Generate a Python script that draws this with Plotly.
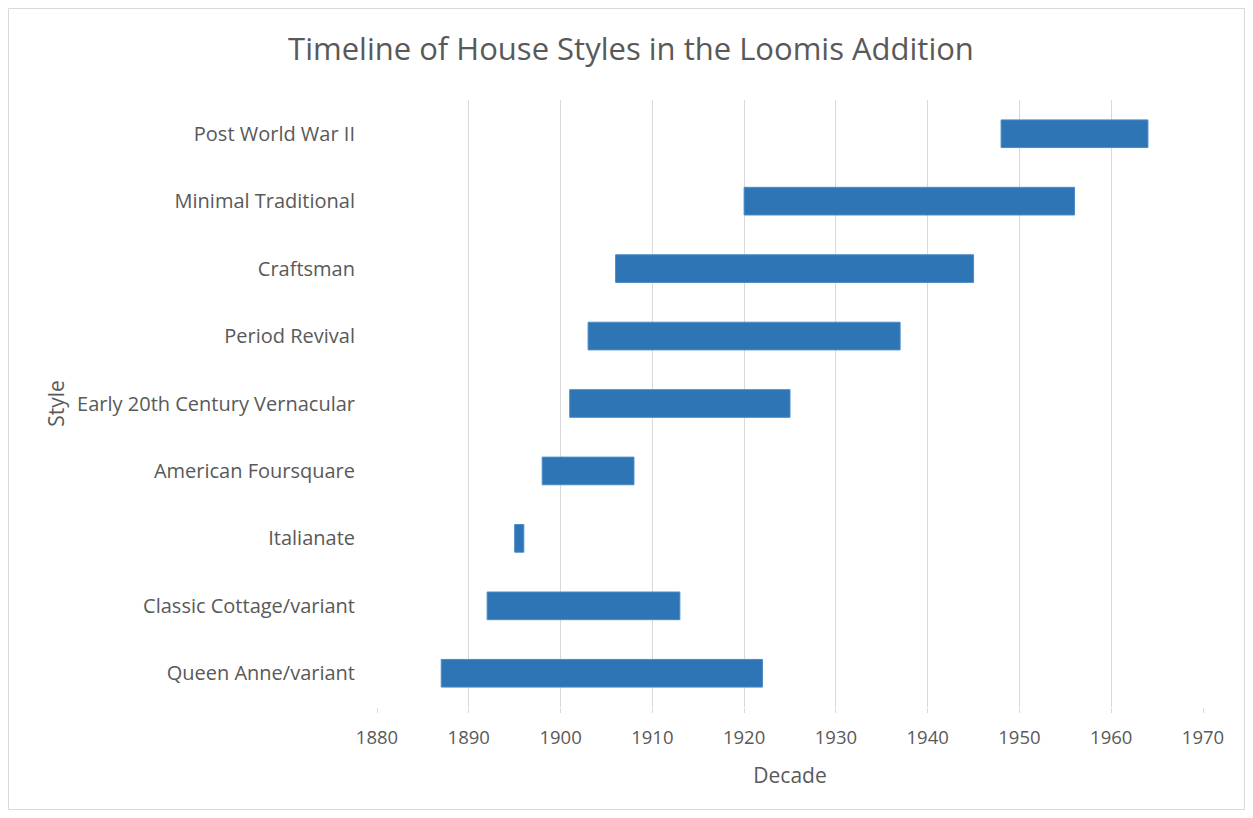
import plotly.graph_objects as go

styles = ["Queen Anne/variant", "Classic Cottage/variant", "Italianate",
          "American Foursquare", "Early 20th Century Vernacular", "Period Revival",
          "Craftsman", "Minimal Traditional", "Post World War II"]
start_year = [1887, 1892, 1895, 1898, 1901, 1903, 1906, 1920, 1948]
end_year = [1922, 1913, 1896, 1908, 1925, 1937, 1945, 1956, 1964]
tick_vals = [1880, 1890, 1900, 1910, 1920, 1930, 1940, 1950, 1960, 1970]

durations = [e - s for s, e in zip(start_year, end_year)]

# page body has an 8px margin; figure sized to fit inside the window
W, H = 1237, 802
L, R, T, B = 369, 42, 92, 103
pw, ph = W - L - R, H - T - B

fig = go.Figure()
fig.add_trace(go.Bar(
    y=styles, x=durations, base=start_year, orientation="h",
    marker=dict(color="#2E75B6", line=dict(color="#4A8BC6", width=1)),
    width=0.41, hoverinfo="skip"
))

font_family = "Open Sans, Liberation Sans, sans-serif"
grey = "#595959"

fig.update_layout(
    width=W, height=H,
    margin=dict(l=L, r=R, t=T, b=B),
    paper_bgcolor="white", plot_bgcolor="white",
    showlegend=False,
    title=dict(text="Timeline of House Styles in the Loomis Addition",
               x=(631 - 8) / W, xanchor="center", y=1 - 41 / H, yanchor="middle",
               font=dict(family=font_family, size=31, color=grey)),
    xaxis=dict(range=[1880, 1970], tickvals=tick_vals,
               showgrid=True, gridcolor="#D9D9D9", gridwidth=1,
               zeroline=False, showline=False,
               ticks="outside", ticklen=5, tickcolor="#D9D9D9",
               ticklabelstandoff=9,
               tickfont=dict(family=font_family, size=18.5, color=grey),
               title=dict(text="Decade", standoff=20,
                          font=dict(family=font_family, size=21, color=grey))),
    yaxis=dict(showgrid=False, zeroline=False, showline=False,
               ticks="", ticklabelstandoff=21,
               tickfont=dict(family=font_family, size=20, color=grey),
               title=dict(text="Style", standoff=6,
                          font=dict(family=font_family, size=21, color=grey))),
    bargap=0.59,
)

# chart border
fig.add_shape(type="rect", xref="paper", yref="paper",
              x0=(0.5 - L) / pw, x1=(W - 0.5 - L) / pw,
              y0=(H - B - (H - 0.5)) / ph, y1=(H - B - 0.5) / ph,
              line=dict(color="#D9D9D9", width=1), layer="below")

fig.write_html("out.html")
